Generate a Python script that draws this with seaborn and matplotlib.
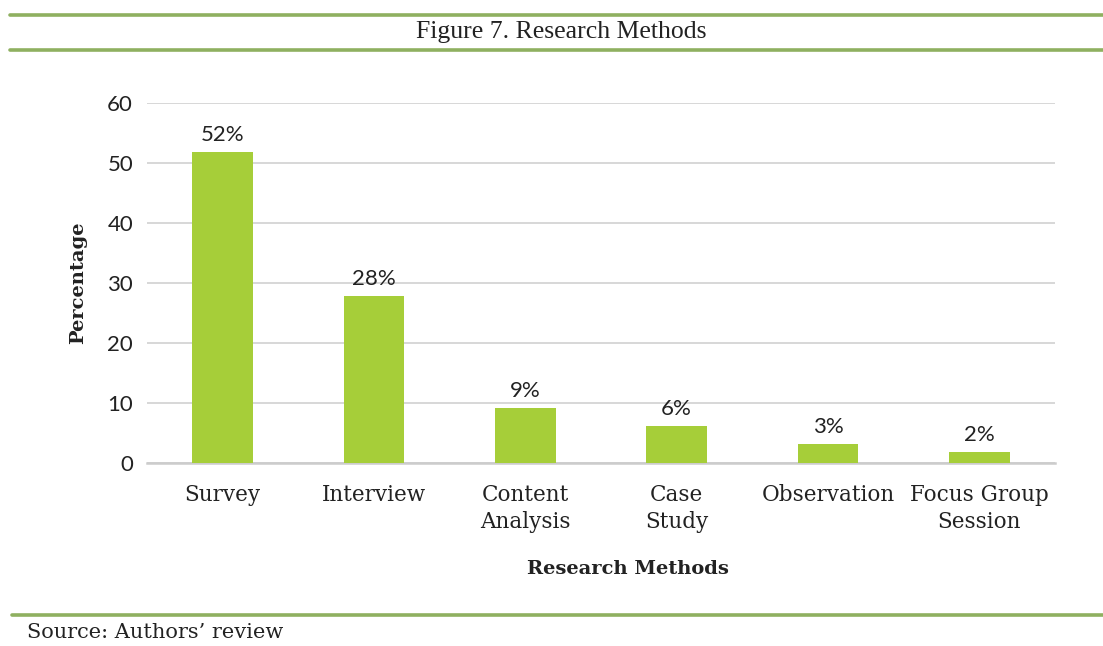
import matplotlib
matplotlib.use("Agg")
import matplotlib.pyplot as plt
import seaborn as sns
import pandas as pd
from matplotlib.lines import Line2D

categories = ["Survey", "Interview", "Content\nAnalysis", "Case\nStudy", "Observation", "Focus Group\nSession"]
values = [51.8, 27.8, 9.2, 6.1, 3.2, 1.8]
labels = ["52%", "28%", "9%", "6%", "3%", "2%"]
yticks = [0, 10, 20, 30, 40, 50, 60]

sns.set_theme(style="white")
plt.rcParams['font.family'] = ['Lato', 'DejaVu Sans']

df = pd.DataFrame({"Method": categories, "Percentage": values})

fig = plt.figure(figsize=(11.03, 6.46), dpi=100)
ax = fig.add_axes([147/1103, 1 - 463/646, (1055-147)/1103, (463-103)/646])

sns.barplot(data=df, x="Method", y="Percentage", color="#a6ce39", width=0.4,
            saturation=1, linewidth=0, ax=ax, zorder=3)

ax.set_ylim(0, 60)
ax.set_xlim(-0.5, len(categories) - 0.5)
ax.set_yticks(yticks)
ax.set_yticklabels([str(t) for t in yticks], fontsize=16, color="#222222", family="Lato")
ax.yaxis.grid(True, color="#d4d4d4", linewidth=1.3, zorder=0)
ax.tick_params(axis="y", length=0, pad=10)
ax.tick_params(axis="x", length=0, pad=15)
ax.set_xticks(range(len(categories)))
ax.set_xticklabels(categories, fontsize=15.5, color="#222222", family="DejaVu Serif",
                   linespacing=1.33, va="top")
for s in ["top", "right", "left"]:
    ax.spines[s].set_visible(False)
ax.spines["bottom"].set_color("#cccccc")
ax.spines["bottom"].set_linewidth(1.8)
ax.set_xlabel("")
ax.set_ylabel("")

for i, (v, lab) in enumerate(zip(values, labels)):
    ax.annotate(lab, (i, v), xytext=(0, 5), textcoords="offset points",
                ha="center", va="bottom", fontsize=16, color="#222222", family="Lato")

fig.text(78/1103, 1 - 283/646, "Percentage", rotation=90, ha="center", va="center",
         fontsize=14, fontweight="bold", family="DejaVu Serif", color="#222222")
fig.text(628/1103, 1 - 569/646, "Research Methods", ha="center", va="center",
         fontsize=14, fontweight="bold", family="DejaVu Serif", color="#222222")

fig.text(561/1103, 1 - 32/646, "Figure 7. Research Methods", ha="center", va="center",
         fontsize=18.5, family="Liberation Serif", color="#222222")
fig.text(27/1103, 1 - 633/646, "Source: Authors\u2019 review", ha="left", va="center",
         fontsize=15, family="DejaVu Serif", color="#222222")

green = "#8fb060"
for y, x0 in [(15, 10), (50, 10), (615, 12)]:
    fig.add_artist(Line2D([x0/1103, 1], [1 - y/646, 1 - y/646], color=green, linewidth=2.6,
                          transform=fig.transFigure))

fig.savefig("out.png", dpi=100)
